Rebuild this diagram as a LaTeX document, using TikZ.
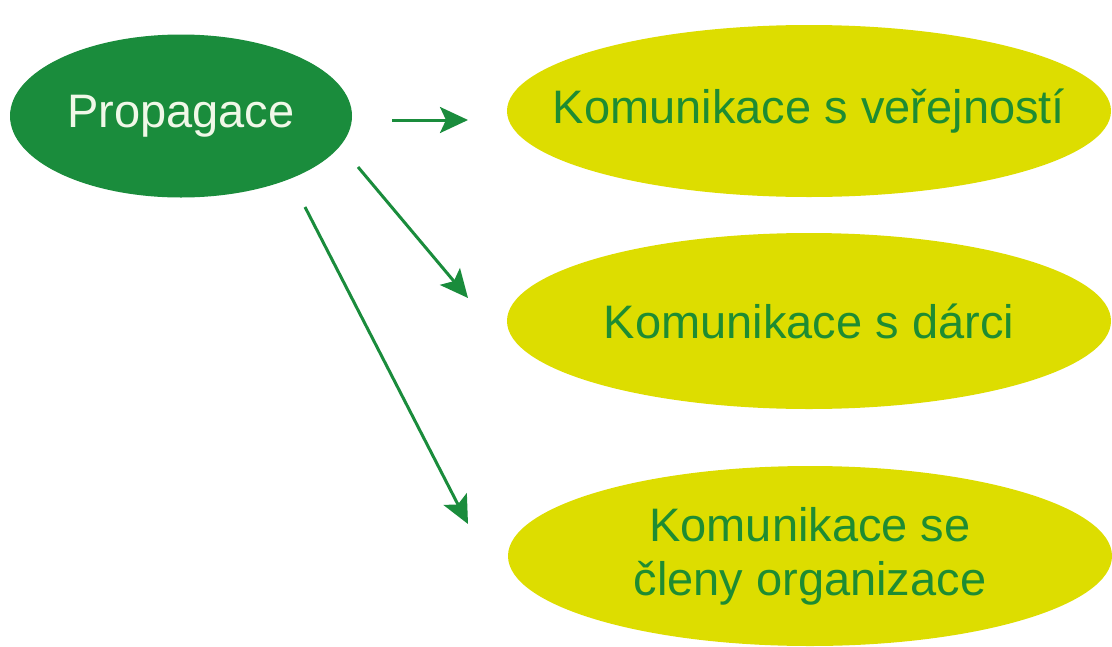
\documentclass[tikz,border=0pt]{standalone}
\usepackage{fontspec}
\setmainfont{Liberation Sans}
\usetikzlibrary{shapes.geometric,arrows.meta}

\definecolor{darkgreen}{RGB}{26,140,60}
\definecolor{textgreen}{RGB}{30,140,50}
\definecolor{lightyellow}{RGB}{221,221,0}
\definecolor{offwhite}{RGB}{240,248,232}

\begin{document}
\begin{tikzpicture}[
	x=1pt, y=-1pt,
	topic/.style={
		shape=ellipse,
		fill=darkgreen,
		text=offwhite,
		inner sep=0pt,
		minimum width=342pt,
		minimum height=163pt,
	},
	branch/.style={
		shape=ellipse,
		fill=lightyellow,
		text=textgreen,
		inner xsep=-60pt,
		inner ysep=0pt,
		minimum width=604pt,
		minimum height=176pt,
		align=center,
	},
	arrow/.style={
		draw=darkgreen,
		line width=3pt,
		-{Stealth[length=28pt,width=26pt,inset=6pt]},
	},
	font=\fontsize{47}{54}\selectfont,
]
% fix the page size
\useasboundingbox (0,0) rectangle (1112,646);

\node (propagace) [topic] at (181,116) {Propagace};
\node (verejnost) [branch, minimum height=172pt] at (809,111) {Komunikace s veřejností};
\node (darci) [branch] at (809,321) {Komunikace s dárci};
\node (clenove) [branch, minimum height=180pt] at (810,556) {Komunikace se\\členy organizace};

% arrows float between the ellipses
\coordinate (s1) at (392,120);
\coordinate (e1) at (468,120);
\coordinate (s2) at (358,167);
\coordinate (e2) at (468,298);
\coordinate (s3) at (305,207);
\coordinate (e3) at (468,524);

\draw[arrow] (s1) -- (e1);
\draw[arrow] (s2) -- (e2);
\draw[arrow] (s3) -- (e3);
\end{tikzpicture}
\end{document}
